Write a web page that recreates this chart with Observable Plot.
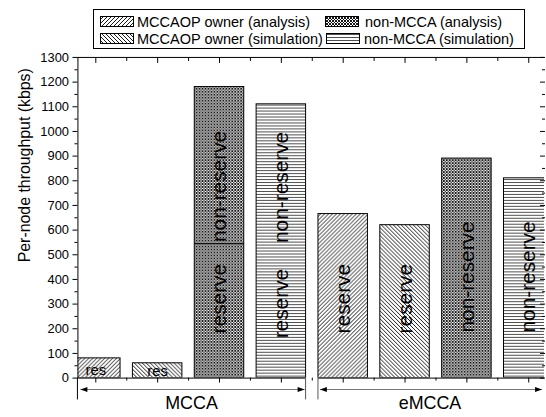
<!DOCTYPE html>
<html><head><meta charset="utf-8">
<script src="https://cdn.jsdelivr.net/npm/d3@7"></script>
<script src="https://cdn.jsdelivr.net/npm/@observablehq/plot@0.6"></script>
<style>
html,body{margin:0;padding:0;background:#fff;overflow:hidden;width:546px;height:417px;font-family:"Liberation Sans",Arial,sans-serif}
#legend{position:absolute;left:0;top:0}
#chart{position:absolute;left:0;top:50px}
</style></head><body>
<svg width="0" height="0" style="position:absolute">
<defs>
<pattern id="pOwnA" patternUnits="userSpaceOnUse" width="4" height="4"><rect width="4" height="4" fill="#fff"/><path d="M-1,1 L1,-1 M0,4 L4,0 M3,5 L5,3" stroke="#000" stroke-width="0.9"/></pattern>
<pattern id="pOwnS" patternUnits="userSpaceOnUse" width="4" height="4"><rect width="4" height="4" fill="#fff"/><path d="M-1,3 L1,5 M0,0 L4,4 M3,-1 L5,1" stroke="#000" stroke-width="0.9"/></pattern>
<pattern id="pNonA" patternUnits="userSpaceOnUse" width="3" height="3"><rect width="3" height="3" fill="#fff"/><path d="M0,0 L3,3 M3,0 L0,3" stroke="#000" stroke-width="0.9"/></pattern>
<pattern id="pNonS" patternUnits="userSpaceOnUse" width="4" height="3"><rect width="4" height="3" fill="#fff"/><path d="M0,1.5 H4" stroke="#222" stroke-width="0.8"/></pattern>
</defs>
</svg>
<div id="legend"></div>
<div id="chart"></div>
<script>
// ---- data ----
const groups = ["MCCA", "eMCCA"];
const series = ["MCCAOP owner (analysis)", "MCCAOP owner (simulation)", "non-MCCA (analysis)", "non-MCCA (simulation)"];
const mccaValues = [80, 60, 1180, 1110];
const emccaValues = [665, 620, 890, 810];
const reserveSplit = [{group: "MCCA", series: "non-MCCA (analysis)", value: 545}];
const annotations = [
  {group: "MCCA", series: series[0], text: "res", value: 32},
  {group: "MCCA", series: series[1], text: "res", value: 28},
  {group: "MCCA", series: series[2], text: "non-reserve", value: 777},
  {group: "MCCA", series: series[2], text: "reserve", value: 322},
  {group: "MCCA", series: series[3], text: "non-reserve", value: 773},
  {group: "MCCA", series: series[3], text: "reserve", value: 302},
  {group: "eMCCA", series: series[0], text: "reserve", value: 322},
  {group: "eMCCA", series: series[1], text: "reserve", value: 322},
  {group: "eMCCA", series: series[2], text: "non-reserve", value: 410},
  {group: "eMCCA", series: series[3], text: "non-reserve", value: 410}
];
const yTicks = d3.range(0, 1301, 100);
const yMinor = d3.range(50, 1300, 100);
const yLabel = "Per-node throughput (kbps)";

// ---- derived ----
const valuesByGroup = [mccaValues, emccaValues];
const posOf = (g, s) => groups.indexOf(g) * series.length + series.indexOf(s) + 1;
const bars = groups.flatMap((g, gi) => valuesByGroup[gi].map((v, si) => ({group: g, series: series[si], pos: posOf(g, series[si]), value: v})));
const half = 0.4;
const xMajor = bars.map(d => d.pos);
const xMinor = d3.range(1.5, bars.length + 0.6, 1);
const xDomain = [0.711, 8.255];
const breakL = series.length + 0.5 - 0.1, breakR = series.length + 0.5 + 0.1;
const fills = {
  [series[0]]: "url(#pOwnA)", [series[1]]: "url(#pOwnS)",
  [series[2]]: "url(#pNonA)", [series[3]]: "url(#pNonS)"
};
const font = "Liberation Sans, Arial, sans-serif";
const blank = () => "";

const plot = Plot.plot({
  width: 550, height: 367,
  marginLeft: 78, marginRight: 2, marginTop: 7, marginBottom: 37,
  x: {domain: xDomain, axis: null},
  y: {domain: [0, 1300], axis: null},
  style: {fontFamily: font, background: "white", color: "black", overflow: "visible"},
  marks: [
    ...series.map(s => Plot.rect(bars.filter(d => d.series === s), {
      x1: d => d.pos - half, x2: d => d.pos + half, y1: 0, y2: "value",
      fill: fills[s], stroke: "black", strokeWidth: 1, clip: true
    })),
    Plot.ruleY(reserveSplit, {y: "value", x1: d => posOf(d.group, d.series) - half, x2: d => posOf(d.group, d.series) + half, stroke: "black", strokeWidth: 1}),
    Plot.text(annotations.filter(d => d.text.length > 3), {
      x: d => posOf(d.group, d.series), y: "value", text: "text", rotate: -90,
      fontSize: 21, fill: "black"
    }),
    Plot.text(annotations.filter(d => d.text.length <= 3), {
      x: d => posOf(d.group, d.series), y: "value", text: "text",
      fontSize: 15, fill: "black"
    }),
    Plot.axisY({ticks: yTicks, tickSize: 5, tickPadding: 4, fontSize: 13, tickFormat: d => String(d), label: null}),
    Plot.axisY({ticks: yMinor, tickSize: 3, tickFormat: blank, label: null}),
    Plot.axisY({anchor: "right", ticks: yTicks, tickSize: -5, tickFormat: blank, label: null}),
    Plot.axisY({anchor: "right", ticks: yMinor, tickSize: -3, tickFormat: blank, label: null}),
    Plot.axisX({ticks: xMajor, tickSize: 5, tickFormat: blank, label: null}),
    Plot.axisX({ticks: xMinor, tickSize: 3, tickFormat: blank, label: null}),
    Plot.axisX({anchor: "top", ticks: xMajor, tickSize: -5, tickFormat: blank, label: null}),
    Plot.axisX({anchor: "top", ticks: xMinor, tickSize: -3, tickFormat: blank, label: null}),
    Plot.ruleX([xDomain[0]], {y1: 0, y2: 1300, stroke: "black"}),
    Plot.ruleY([1300], {stroke: "black"}),
    Plot.ruleY([0], {x1: xDomain[0], x2: breakL, stroke: "black"}),
    Plot.ruleY([0], {x1: breakR, x2: xDomain[1], stroke: "black"})
  ]
});
document.getElementById("chart").appendChild(plot);

// ---- decorations using the plot's scales ----
const xs = plot.scale("x"), ys = plot.scale("y");
const svg = d3.select(plot);
const y0 = ys.apply(0);
const xL = xs.apply(xDomain[0]), xR = xs.apply(xDomain[1]);
const bL = xs.apply(breakL), bR = xs.apply(breakR);
const g = svg.append("g");
[xL, bL, bR].forEach(x => g.append("line").attr("x1", x).attr("x2", x).attr("y1", y0).attr("y2", y0 + 22).attr("stroke", x === xL ? "#000" : "#555").attr("stroke-width", 1));
const ay = y0 + 12;
function arrow(x1, x2, headL, headR) {
  g.append("line").attr("x1", x1).attr("x2", x2).attr("y1", ay).attr("y2", ay).attr("stroke", "#777").attr("stroke-width", 1);
  if (headL) g.append("path").attr("d", `M${x1},${ay} l7,-2.5 v5 z`).attr("fill", "#000");
  if (headR) g.append("path").attr("d", `M${x2},${ay} l-7,-2.5 v5 z`).attr("fill", "#000");
}
arrow(xL + 3, bL - 1, true, true);
arrow(bR + 2, 546, true, true);
g.append("text").attr("x", (xL + bL) / 2).attr("y", y0 + 32).attr("text-anchor", "middle").attr("font-size", 18).attr("font-family", font).text(groups[0]);
g.append("text").attr("x", (bR + 546) / 2).attr("y", y0 + 32).attr("text-anchor", "middle").attr("font-size", 18).attr("font-family", font).text(groups[1]);
g.append("text").attr("transform", `translate(30,${ys.apply(861)}) rotate(-90)`).attr("text-anchor", "middle").attr("font-size", 16).attr("font-family", font).text(yLabel);

// ---- legend ----
const leg = d3.select("#legend").append("svg").attr("width", 546).attr("height", 50);
leg.append("rect").attr("x", 93.5).attr("y", 9.5).attr("width", 431).attr("height", 39).attr("fill", "#fff").attr("stroke", "#000");
const legItems = [
  {s: series[0], sx: 100, tx: 137, row: 0},
  {s: series[2], sx: 325, tx: 365, row: 0},
  {s: series[1], sx: 100, tx: 137, row: 1},
  {s: series[3], sx: 326, tx: 364, row: 1}
];
legItems.forEach(d => {
  const base = d.row === 0 ? 27 : 44;
  leg.append("rect").attr("x", d.sx + 0.5).attr("y", base - 10.5).attr("width", 33).attr("height", 10).attr("fill", fills[d.s]).attr("stroke", "#000");
  leg.append("text").attr("x", d.tx).attr("y", base).attr("font-size", 14.5).attr("font-family", font).text(d.s);
});
</script>
</body></html>
